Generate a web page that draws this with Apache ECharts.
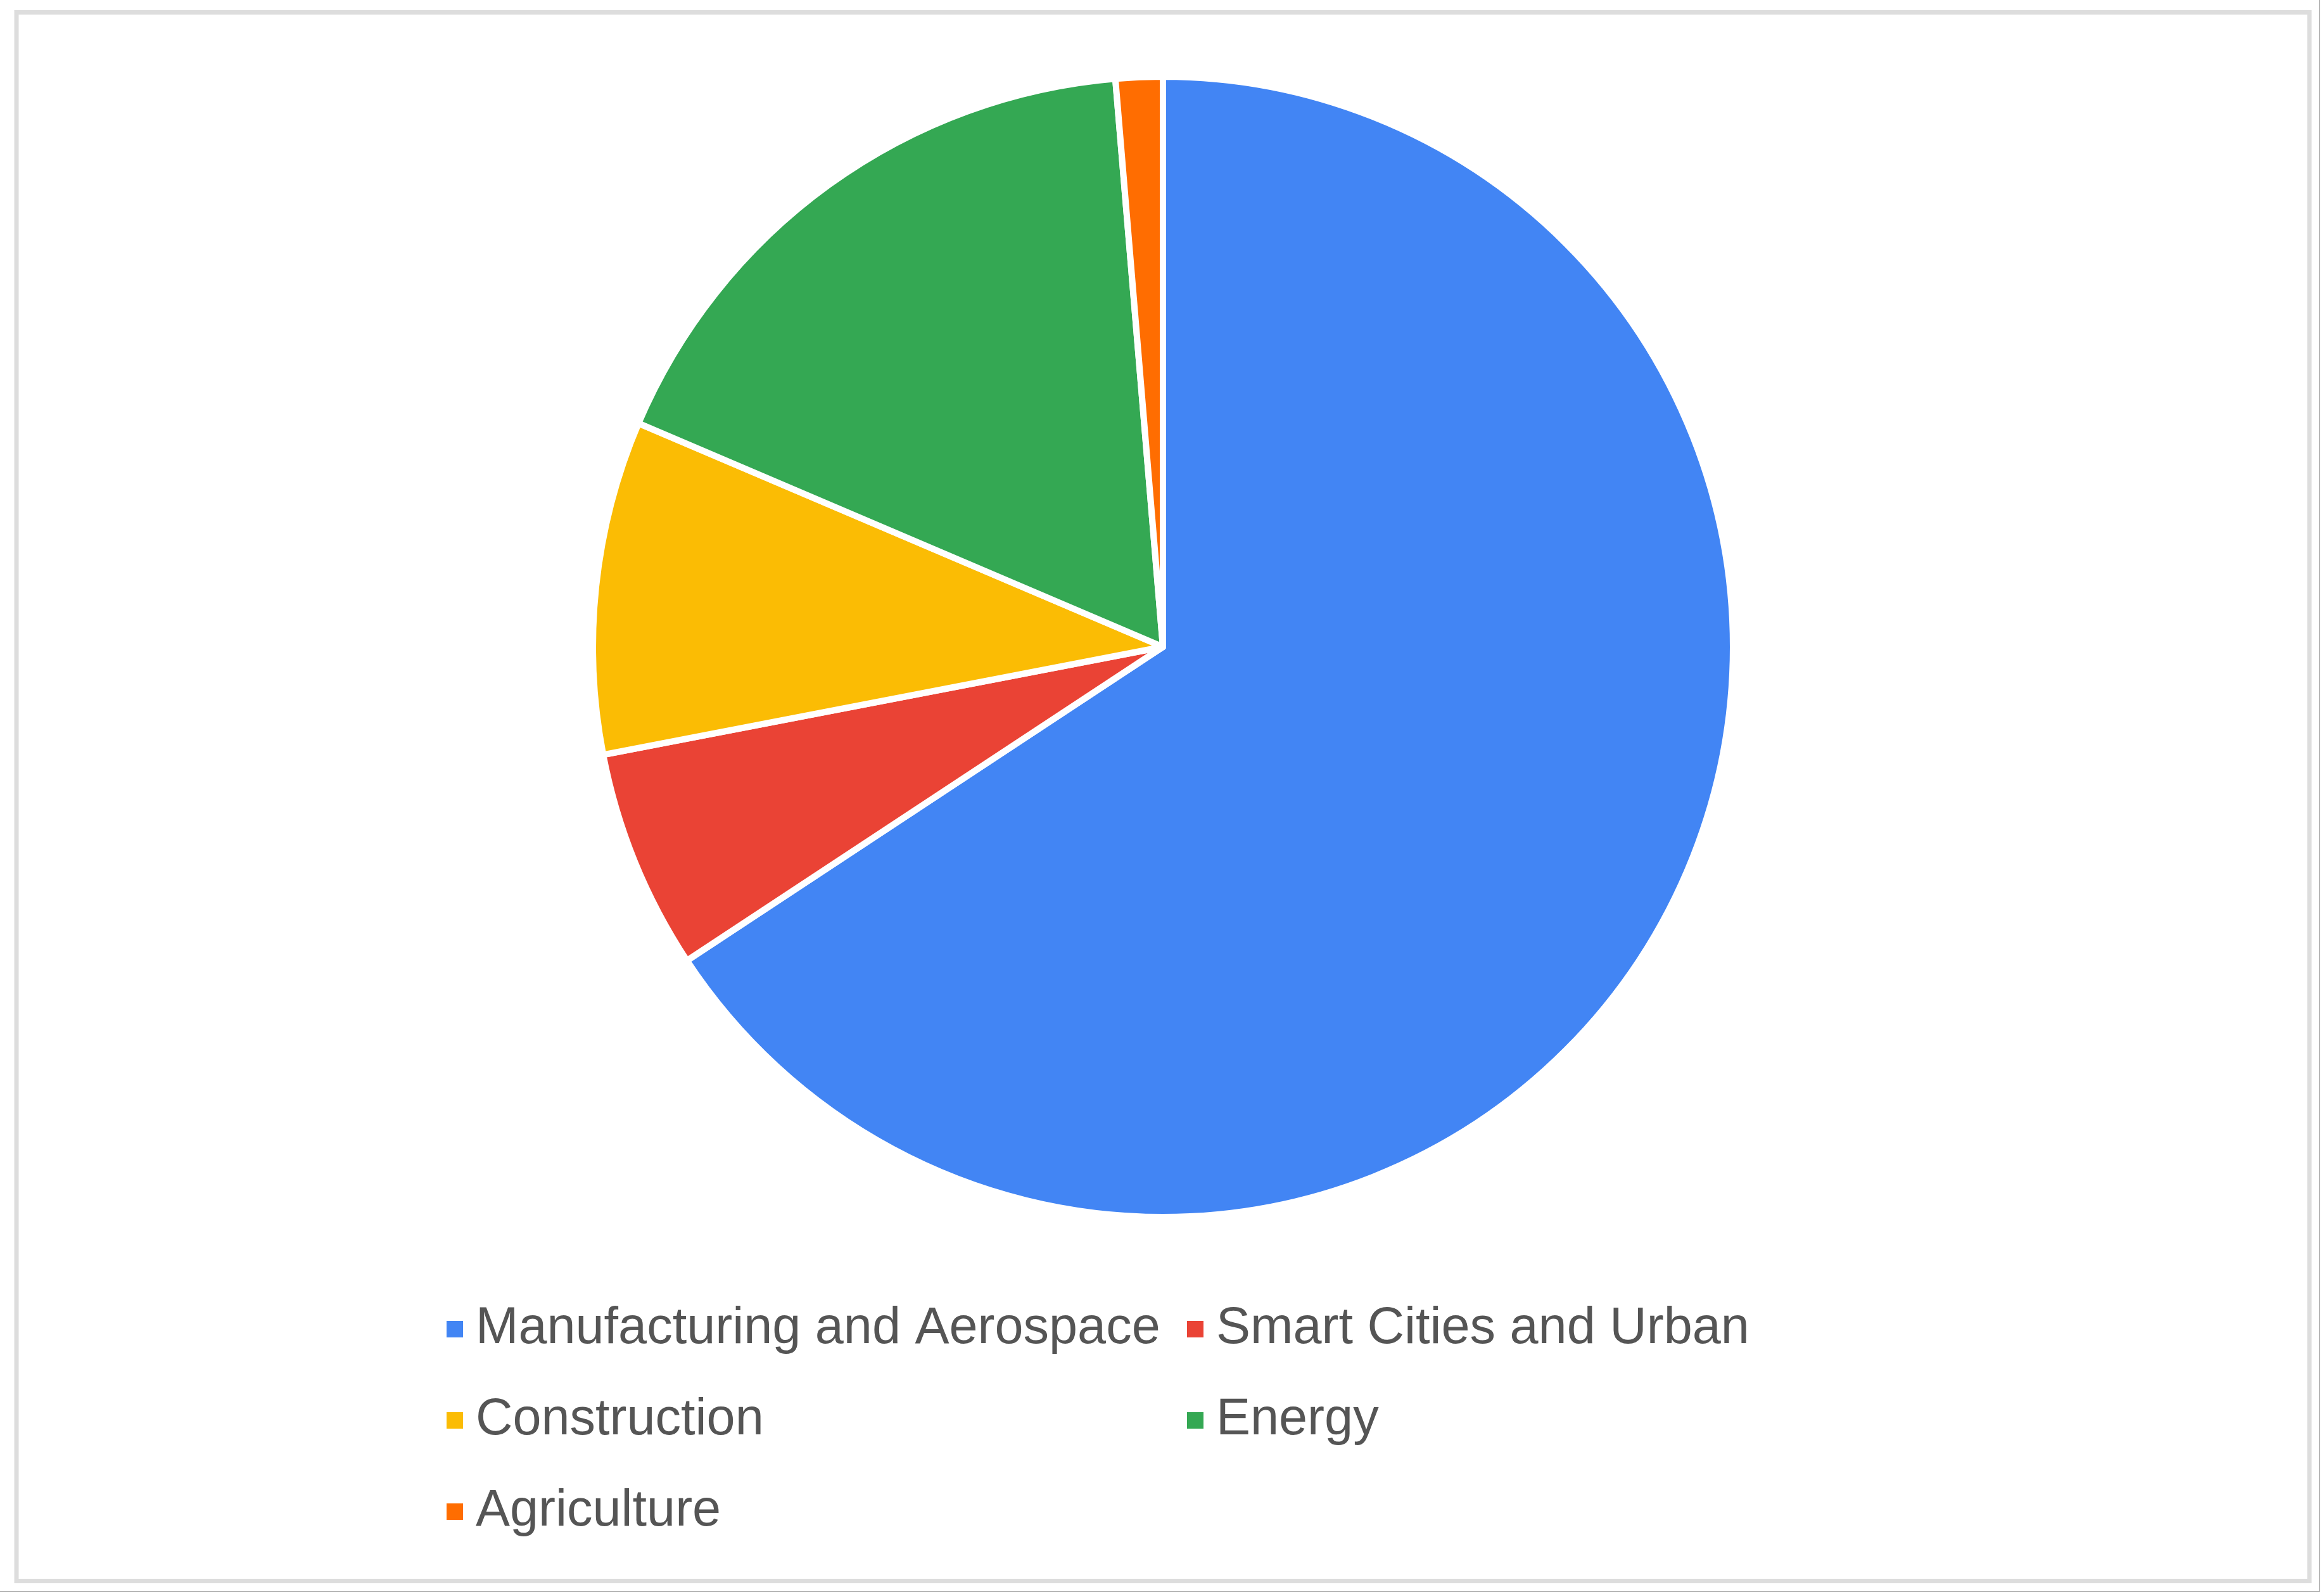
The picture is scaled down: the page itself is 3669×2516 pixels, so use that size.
<!DOCTYPE html>
<html>
<head>
<meta charset="utf-8">
<style>
  html, body { margin: 0; padding: 0; background: #fff; }
  #chart { width: 3669px; height: 2516px; }
</style>
<script src="https://cdn.jsdelivr.net/npm/echarts@6/dist/echarts.min.js"></script>
</head>
<body>
<div id="chart"></div>
<script>
// sectors, share of total (%)
const categories = [
  "Manufacturing and Aerospace",
  "Smart Cities and Urban",
  "Construction",
  "Energy",
  "Agriculture"
];
const shares = [65.7, 6.24, 9.44, 17.25, 1.33];
const colors = ["#4285F4", "#EA4335", "#FBBC04", "#34A853", "#FF6D01"];

var chartDom = document.getElementById("chart");
var myChart = echarts.init(chartDom);

const pieData = categories.map((name, i) => ({
  name: name,
  value: shares[i],
  itemStyle: { color: colors[i] }
}));

var option = {
  backgroundColor: "#ffffff",
  animation: false,
  graphic: [
    {
      type: "rect",
      shape: { x: 26, y: 19.5, width: 3620, height: 2476 },
      style: { fill: "none", stroke: "#dddddd", lineWidth: 7 }
    },
    {
      type: "polyline",
      shape: { points: [[3662, 0], [3662, 2512], [0, 2512]] },
      style: { fill: "none", stroke: "#b8b8b8", lineWidth: 2 }
    }
  ],
  legend: {
    left: 698,
    top: 2034,
    width: 2400,
    orient: "horizontal",
    icon: "rect",
    itemWidth: 28,
    itemHeight: 28,
    itemGap: 26,
    data: categories,
    textStyle: {
      fontFamily: "Liberation Sans, Arial, sans-serif",
      fontSize: 81,
      color: "#555555",
      width: 1095,
      lineHeight: 118,
      padding: [0, 0, 0, 14]
    }
  },
  series: [
    {
      type: "pie",
      center: [1836, 1021],
      radius: [0, 900],
      startAngle: 90,
      clockwise: true,
      label: { show: false },
      labelLine: { show: false },
      emphasis: { disabled: true },
      itemStyle: { borderColor: "#ffffff", borderWidth: 10 },
      data: pieData
    }
  ]
};

option && myChart.setOption(option);
</script>
</body>
</html>
